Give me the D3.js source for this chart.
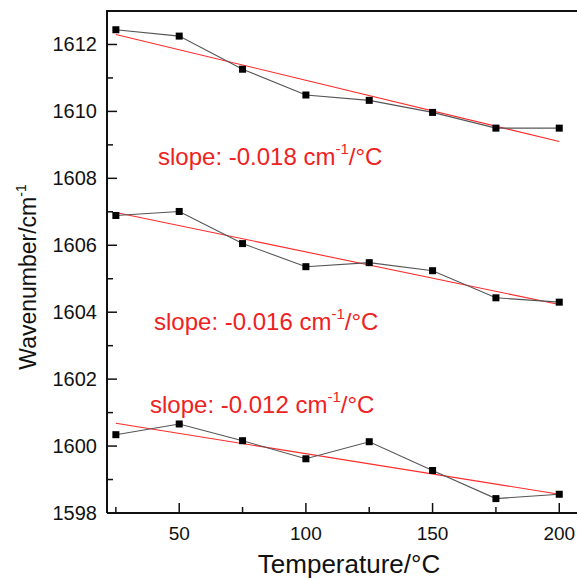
<!DOCTYPE html>
<html>
<head>
<meta charset="utf-8">
<script src="https://cdn.jsdelivr.net/npm/d3@7"></script>
<style>
  body { margin: 0; background: #fff; }
  svg { display: block; font-family: "Liberation Sans", Arial, sans-serif; }
</style>
</head>
<body>
<svg id="chart" width="577" height="580"></svg>
<script>
// measured data, three bands
var temps = [25, 50, 75, 100, 125, 150, 175, 200];
var bandTop = [1612.44, 1612.25, 1611.26, 1610.49, 1610.33, 1609.97, 1609.50, 1609.50];
var bandMid = [1606.89, 1607.01, 1606.05, 1605.36, 1605.48, 1605.24, 1604.43, 1604.30];
var bandLow = [1600.34, 1600.66, 1600.16, 1599.62, 1600.13, 1599.27, 1598.43, 1598.56];

// linear fit endpoints (at 25 and 200 °C)
var fitX = [25, 200];
var fitTop = [1612.30, 1609.10];
var fitMid = [1606.98, 1604.23];
var fitLow = [1600.68, 1598.56];

var slopeLabels = ["-0.018", "-0.016", "-0.012"];
var xTicks = [50, 100, 150, 200];
var yTicks = [1598, 1600, 1602, 1604, 1606, 1608, 1610, 1612];

var svg = d3.select("#chart");

var mLeft = 107, mTop = 11, mBottom = 513, mRight = 596;

var x = d3.scaleLinear().domain([21.5, 214.5]).range([mLeft, mRight]);
var y = d3.scaleLinear().domain([1598, 1613]).range([mBottom, mTop]);

// frame
svg.append("path")
  .attr("d", `M${mLeft},${mBottom} L${mLeft},${mTop} L${mRight},${mTop}`)
  .attr("fill", "none").attr("stroke", "#111").attr("stroke-width", 2);
svg.append("line")
  .attr("x1", mLeft).attr("x2", mRight).attr("y1", mBottom).attr("y2", mBottom)
  .attr("stroke", "#111").attr("stroke-width", 2);

// ticks (inward)
var xMinor = [25, 75, 125, 175];
svg.append("g").selectAll("line")
  .data(xTicks.map(v => ({v: v, len: 10})).concat(xMinor.map(v => ({v: v, len: 6}))))
  .enter().append("line")
    .attr("x1", d => x(d.v)).attr("x2", d => x(d.v))
    .attr("y1", mBottom).attr("y2", d => mBottom - d.len)
    .attr("stroke", "#111").attr("stroke-width", 1.5);

var yMinor = [1599, 1601, 1603, 1605, 1607, 1609, 1611];
svg.append("g").selectAll("line")
  .data(yTicks.map(v => ({v: v, len: 10})).concat(yMinor.map(v => ({v: v, len: 6}))))
  .enter().append("line")
    .attr("x1", mLeft).attr("x2", d => mLeft + d.len)
    .attr("y1", d => y(d.v)).attr("y2", d => y(d.v))
    .attr("stroke", "#111").attr("stroke-width", 1.5);

svg.append("g").selectAll("text")
  .data(xTicks).enter().append("text")
    .attr("x", d => x(d)).attr("y", 540)
    .attr("text-anchor", "middle")
    .style("font-size", "19px").attr("fill", "#111")
    .text(d => d);

svg.append("g").selectAll("text")
  .data(yTicks).enter().append("text")
    .attr("x", 97).attr("y", d => y(d) + 7)
    .attr("text-anchor", "end")
    .style("font-size", "20px").attr("fill", "#111")
    .text(d => d);

// axis titles
svg.append("text")
  .attr("x", 349).attr("y", 573)
  .attr("text-anchor", "middle")
  .style("font-size", "26px").attr("fill", "#111")
  .text("Temperature/°C");

var yt = svg.append("text")
  .attr("transform", "translate(36,277) rotate(-90)")
  .attr("text-anchor", "middle")
  .style("font-size", "23px").attr("fill", "#111");
yt.append("tspan").text("Wavenumber/cm");
yt.append("tspan").attr("dy", -10).style("font-size", "14px").text("-1");

// data
var bands = [bandTop, bandMid, bandLow];
var fits = [fitTop, fitMid, fitLow];

var line = d3.line().x(d => x(d[0])).y(d => y(d[1]));

fits.forEach(function(f) {
  svg.append("path")
    .datum(fitX.map((t, i) => [t, f[i]]))
    .attr("d", line)
    .attr("fill", "none").attr("stroke", "#ff2a2a").attr("stroke-width", 1.1);
});

bands.forEach(function(b) {
  var pts = temps.map((t, i) => [t, b[i]]);
  svg.append("path")
    .datum(pts)
    .attr("d", line)
    .attr("fill", "none").attr("stroke", "#555").attr("stroke-width", 1.1);
  svg.append("g").selectAll("rect")
    .data(pts).enter().append("rect")
      .attr("x", d => x(d[0]) - 3.5).attr("y", d => y(d[1]) - 3.5)
      .attr("width", 7).attr("height", 7)
      .attr("fill", "#000");
});

// slope annotations
var labelPos = [[158, 165], [154, 330], [150, 413]];
slopeLabels.forEach(function(s, i) {
  var t = svg.append("text")
    .attr("x", labelPos[i][0]).attr("y", labelPos[i][1])
    .style("font-size", "24px").attr("fill", "#ee2222");
  t.append("tspan").text("slope: " + s + " cm");
  t.append("tspan").attr("dy", -11).style("font-size", "15px").text("-1");
  t.append("tspan").attr("dy", 11).text("/°C");
});
</script>
</body>
</html>
